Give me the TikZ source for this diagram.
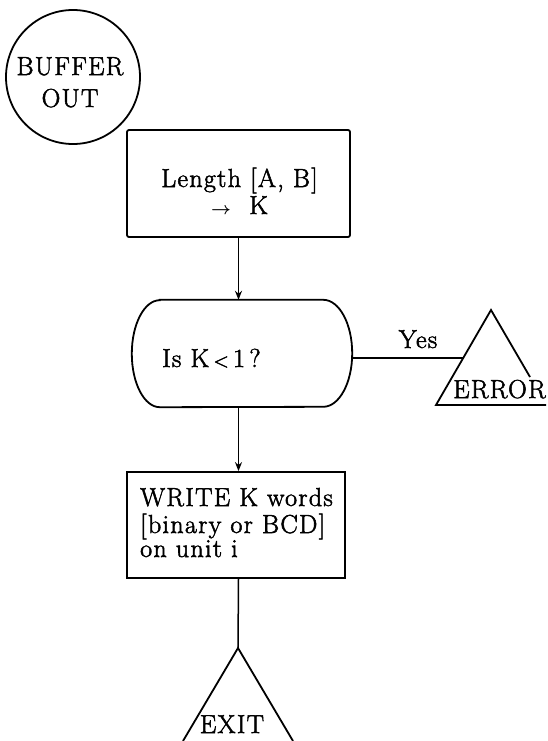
\documentclass[tikz,border=0pt]{standalone}
\usepackage{fontspec}
\setmainfont{Latin Modern Roman}[LetterSpace=5,FakeBold=2]
\usetikzlibrary{arrows.meta}
\begin{document}
\begin{tikzpicture}[x=1pt,y=-1pt,
  every node/.style={font=\fontsize{26}{27}\selectfont},
  shapeline/.style={line width=1.8pt},
  conn/.style={line width=1.5pt},
  arr/.style={conn,-{Stealth[length=9pt,width=7pt]}},
  procbox/.style={draw,shapeline,rectangle,inner sep=0pt}]
\useasboundingbox (0,0) rectangle (547,741);
% start circle
\node[draw,shapeline,circle,minimum size=134pt,inner sep=0pt] (start) at (73,77) {};
\node[align=center,inner sep=0pt,anchor=base] (starttext) at (70,107) {BUFFER\\[5pt]OUT};
% length box
\node[procbox,rounded corners=2pt,minimum width=223pt,minimum height=107pt] (len) at (238.5,183.5) {};
\node[align=center,inner sep=0pt,anchor=base] (lentext) at (239.5,214)
  {Length [A, B]\\[0pt]{\fontsize{16}{16}\selectfont\boldmath$\rightarrow$}\ \ K};
% decision oval
\node[minimum width=220pt,minimum height=107pt,inner sep=0pt] (dec) at (242,353.5) {};
\draw[shapeline] ([xshift=28pt]dec.north west) -- ([xshift=-29pt]dec.north east)
  arc[start angle=90,end angle=-90,x radius=29pt,y radius=53.5pt]
  -- ([xshift=28pt]dec.south west)
  arc[start angle=-90,end angle=-270,x radius=28pt,y radius=53.5pt] -- cycle;
\node[anchor=base west,inner sep=0pt] (dectext) at (162,367) {Is K\,{\fontsize{20}{20}\selectfont<}\,1\,?};
% error triangle
\coordinate (errtop) at (491,310);
\coordinate (errbl) at (436,405);
\coordinate (errbr) at (546,405);
\coordinate (errside) at (530,377);
\draw[shapeline] (errside) -- (errtop) -- (errbl) -- (errbr);
\node[anchor=base east,inner sep=0pt] (errtext) at (546,398) {ERROR};
\coordinate (errleft) at (463,358);
\draw[conn] (dec.east |- errleft) -- (errleft);
\node[anchor=base,inner sep=0pt] (yes) at (418,348) {Yes};
% write box
\node[procbox,minimum width=218pt,minimum height=106pt] (write) at (236,525) {};
\node[anchor=base west,align=left,inner sep=0pt] (writetext) at (140,557)
  {WRITE K words\\{}[binary or BCD]\\[-3pt]on unit i};
% exit triangle
\coordinate (exittop) at (238,648);
\coordinate (exitbl) at (183,741);
\coordinate (exitbr) at (293,741);
\draw[shapeline] (exitbl) -- (exittop) -- (exitbr);
\node[anchor=base,inner sep=0pt] (exittext) at (232,733) {EXIT};
% connectors
\draw[arr] (len.south) -- (len.south |- dec.north);
\draw[arr] (len.south |- dec.south) -- (len.south |- write.north);
\draw[conn] (len.south |- write.south) -- (exittop);
\end{tikzpicture}
\end{document}
